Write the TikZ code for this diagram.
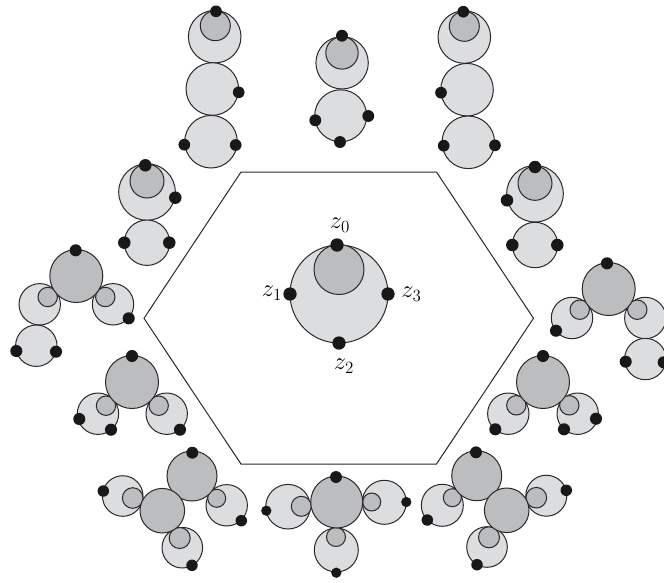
\documentclass[tikz,border=0pt]{standalone}
\definecolor{lightg}{HTML}{DCDDDF}
\definecolor{midg}{HTML}{BCBDBF}
\definecolor{dotk}{HTML}{1A1718}
\definecolor{linek}{HTML}{2A2829}
\tikzset{
  lightdisc/.style={draw=linek,fill=lightg,line width=1pt},
  middisc/.style={draw=linek,fill=midg,line width=1pt},
  blackdot/.style={fill=dotk},
  zlabel/.style={inner sep=0pt,font=\fontsize{17}{17}\selectfont}
}
\newcommand{\Lc}[3]{\path[lightdisc] (#1,#2) circle[radius=#3pt];}
\newcommand{\Mc}[3]{\path[middisc] (#1,#2) circle[radius=#3pt];}
\newcommand{\Dt}[3]{\path[blackdot] (#1,#2) circle[radius=#3pt+0.45pt];}
\newcommand{\Zl}[1]{\scalebox{1.42}{$z_{#1}$}}
\begin{document}
\begin{tikzpicture}[x=1pt,y=-1pt]
\useasboundingbox (0,0) rectangle (664,582);
% hexagon
\draw[draw=linek,line width=1pt] (241,172) -- (436.5,172) -- (533.5,318.3) -- (436.5,464) -- (241,464) -- (144,318.3) -- cycle;
% centre
\Lc{339}{294}{49}\Mc{339}{269.5}{25}
\Dt{337}{245}{6.2}\Dt{290}{294}{6.2}\Dt{388}{294}{6.2}\Dt{339}{343}{6.2}
\node[zlabel] (z0) at (340,225) {\Zl{0}};
\node[zlabel] (z1) at (272,293) {\Zl{1}};
\node[zlabel] (z2) at (344,366) {\Zl{2}};
\node[zlabel] (z3) at (411.5,294) {\Zl{3}};
% top-left column
\Lc{214.7}{36.7}{26.3}\Mc{215.3}{25.7}{15}
\Lc{212.3}{89}{26.3}\Lc{211}{141.7}{26.3}
\Dt{216}{11.3}{5.4}\Dt{238.7}{92.3}{5.4}\Dt{184.3}{144.7}{5.4}\Dt{235.7}{145}{5.4}
% top-middle column
\Lc{342.1}{62.8}{26.2}\Mc{342}{52.9}{16.2}
\Lc{340.7}{115.8}{26}
\Dt{342}{35.7}{5.5}\Dt{315.3}{120.3}{5.5}\Dt{368.3}{116}{5.5}\Dt{340}{142}{5.5}
% top-right column
\Lc{464.3}{37}{26.3}\Mc{464.3}{26.3}{15}
\Lc{467}{89.7}{26.3}\Lc{468.3}{142.3}{26.3}
\Dt{463.3}{11.7}{5.4}\Dt{441}{92.7}{5.4}\Dt{443.7}{145.7}{5.4}\Dt{495}{145.3}{5.4}
% left pair
\Lc{147}{192}{28.3}\Mc{147}{181}{17}\Lc{147}{242.7}{22.7}
\Dt{145.3}{165.3}{5.8}\Dt{175.3}{197.7}{5.8}\Dt{124.3}{242.7}{5.8}\Dt{169.3}{242.7}{5.8}
% right pair
\Lc{535}{193.7}{28.3}\Mc{535}{183.3}{17}\Lc{535}{245}{22.7}
\Dt{535}{167}{5.8}\Dt{507}{200.3}{5.8}\Dt{512.3}{245}{5.8}\Dt{557.3}{245}{5.8}
% left trio with tail
\Lc{39.7}{304.3}{20.7}\Mc{47.7}{297}{9.7}
\Lc{113}{304.3}{20.7}\Mc{105.3}{297}{9.7}
\Lc{36.3}{345.7}{20.7}
\Mc{76.3}{276}{26.5}
\Dt{75.7}{250.3}{5.6}\Dt{128.7}{318.3}{5.6}\Dt{16.3}{351}{5.6}\Dt{56}{351.7}{5.6}
% right trio with tail
\Lc{572}{318}{20.7}\Mc{579.7}{309.7}{9.7}
\Lc{645.3}{318}{20.7}\Mc{637.3}{309.7}{9.7}
\Lc{645.3}{359}{20.7}
\Mc{608.7}{289}{26.5}
\Dt{607}{263.3}{5.6}\Dt{556}{330.7}{5.6}\Dt{625.7}{361.7}{5.6}\Dt{663.7}{362.3}{5.6}
% left trio
\Lc{98}{413.7}{20.7}\Mc{106}{405.7}{9.7}
\Lc{166.7}{413.7}{20.7}\Mc{158.7}{405.7}{9.7}
\Mc{132}{382}{26.5}
\Dt{132}{356}{5.6}\Dt{79.3}{419}{5.6}\Dt{111}{429.7}{5.6}\Dt{180}{429.7}{5.6}
% right trio
\Lc{508.3}{413.7}{20.7}\Mc{516.3}{405.3}{9.7}
\Lc{577.7}{413.7}{20.7}\Mc{569.3}{405.3}{9.7}
\Mc{543}{382}{26.5}
\Dt{543}{356}{5.6}\Dt{495.3}{429.3}{5.6}\Dt{564}{429.3}{5.6}\Dt{596}{418.7}{5.6}
% bottom-left group
\Lc{122.7}{496}{20.3}\Mc{132.7}{498}{10.3}
\Lc{226.7}{505.3}{20.7}\Mc{216.7}{498.3}{9}
\Lc{182.3}{547.7}{20.3}\Mc{179.7}{538}{10.5}
\Mc{192}{476}{25}\Mc{162.3}{510.7}{22.3}
\Dt{192.3}{452.7}{5.5}\Dt{103.3}{491}{5.3}\Dt{241.3}{520.7}{5.3}\Dt{192}{565.3}{5.3}
% bottom-middle group
\Lc{288}{506.7}{22.3}\Mc{301.3}{506.3}{10}
\Lc{384.3}{502.3}{22}\Mc{371.7}{502}{9}
\Lc{336.3}{550}{22}\Mc{336}{537}{9.5}
\Mc{336.7}{502}{26}
\Dt{336}{477}{5.5}\Dt{266.3}{510.7}{4.7}\Dt{406.3}{502}{4.7}\Dt{336.3}{572.7}{4.7}
% bottom-right group
\Lc{442.3}{505.3}{21}\Mc{452.3}{497.7}{9}
\Lc{546.3}{495.7}{20.5}\Mc{536.3}{497.7}{10.3}
\Lc{487}{547}{20.3}\Mc{489}{537.3}{10.5}
\Mc{476.7}{475.7}{25}\Mc{506.7}{510.3}{22.3}
\Dt{476}{452.3}{5.5}\Dt{427.3}{520}{5.3}\Dt{566.3}{490.3}{5.3}\Dt{477}{564.7}{5.3}
\end{tikzpicture}
\end{document}
